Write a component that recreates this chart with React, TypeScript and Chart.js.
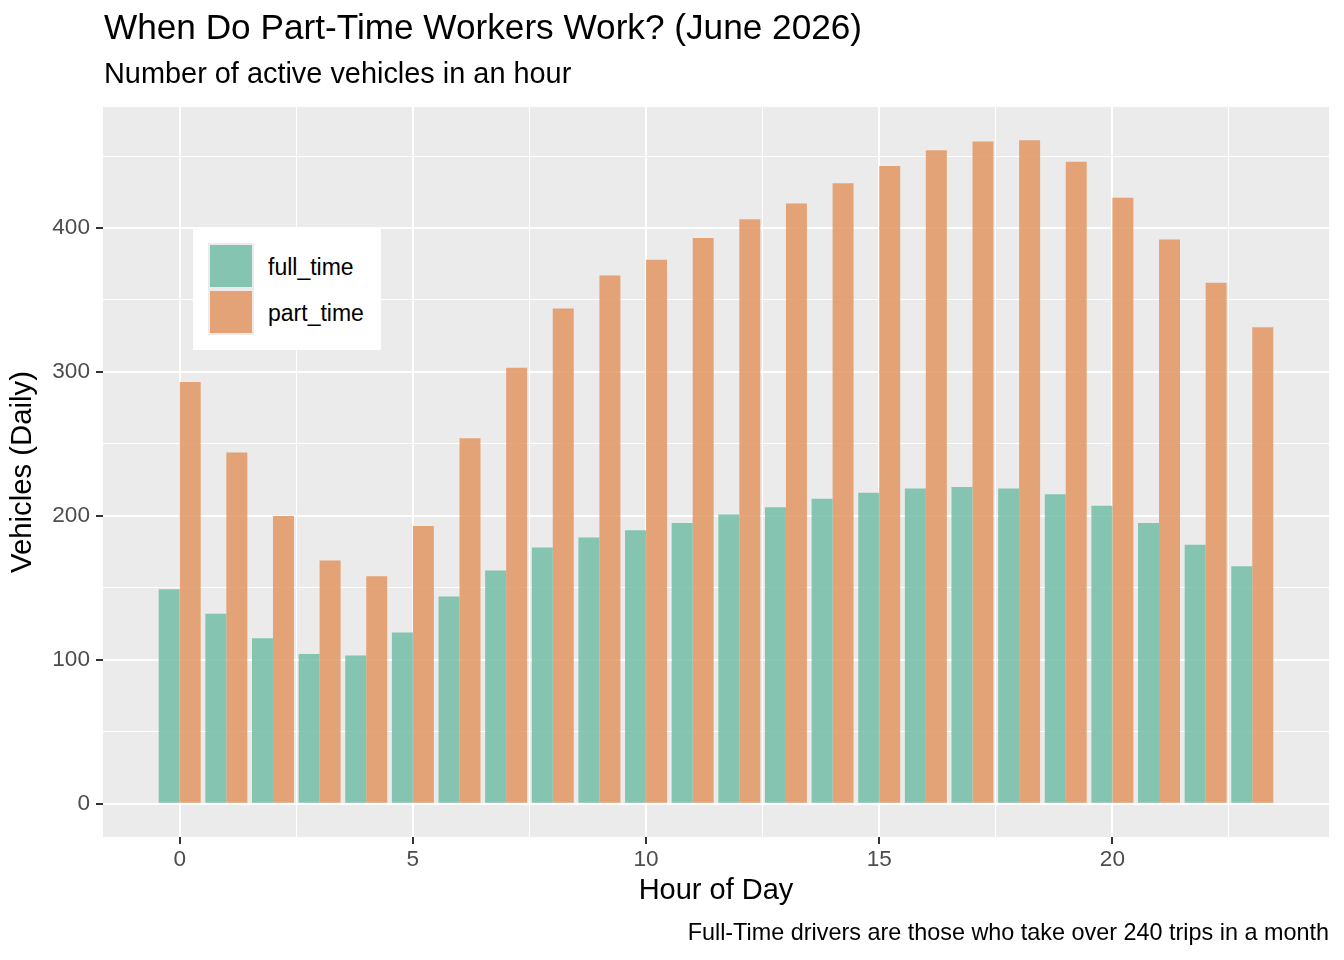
import React, { useEffect, useRef } from 'react';
import { Chart, registerables } from 'chart.js';

Chart.register(...registerables);

// data
const hours = [0, 1, 2, 3, 4, 5, 6, 7, 8, 9, 10, 11, 12, 13, 14, 15, 16, 17, 18, 19, 20, 21, 22, 23];
const fullTime = [149, 132, 115, 104, 103, 119, 144, 162, 178, 185, 190, 195, 201, 206, 212, 216, 219, 220, 219, 215, 207, 195, 180, 165];
const partTime = [293, 244, 200, 169, 158, 193, 254, 303, 344, 367, 378, 393, 406, 417, 431, 443, 454, 460, 461, 446, 421, 392, 362, 331];
const seriesNames = ['full_time', 'part_time'];

const FONT = '"Liberation Sans", Arial, Helvetica, sans-serif';
const GREEN = 'rgba(114, 189, 166, 0.85)';
const ORANGE = 'rgba(226, 151, 98, 0.85)';
const PANEL = '#EBEBEB';

// grey panel behind the grid, like theme_gray
const panelBackground = {
  id: 'panelBackground',
  beforeDraw: (chart: any) => {
    const { ctx, chartArea } = chart;
    ctx.save();
    ctx.fillStyle = PANEL;
    ctx.fillRect(chartArea.left, chartArea.top, chartArea.right - chartArea.left, chartArea.bottom - chartArea.top);
    ctx.restore();
  },
};

const App: React.FC = () => {
  const chartRef = useRef<HTMLCanvasElement>(null);
  const chartInstance = useRef<Chart | null>(null);

  useEffect(() => {
    document.body.style.margin = '0';
    if (!chartRef.current) return;
    if (chartInstance.current) chartInstance.current.destroy();

    const ctx = chartRef.current.getContext('2d');
    if (!ctx) return;

    const isMajorX = (v: number) => v % 5 === 0;
    const isMajorY = (v: number) => v % 100 === 0;

    chartInstance.current = new Chart(ctx, {
      type: 'bar',
      data: {
        datasets: [
          {
            label: seriesNames[0],
            data: hours.map((h, i) => ({ x: h, y: fullTime[i] })),
            backgroundColor: GREEN,
            borderWidth: 0,
            categoryPercentage: 0.9,
            barPercentage: 1.0,
          },
          {
            label: seriesNames[1],
            data: hours.map((h, i) => ({ x: h, y: partTime[i] })),
            backgroundColor: ORANGE,
            borderWidth: 0,
            categoryPercentage: 0.9,
            barPercentage: 1.0,
          },
        ],
      },
      options: {
        animation: false,
        responsive: true,
        maintainAspectRatio: false,
        layout: { padding: { top: 107, right: 15, bottom: 0, left: 0 } },
        plugins: {
          legend: { display: false },
          tooltip: { enabled: false },
        },
        scales: {
          x: {
            type: 'linear',
            min: -1.645,
            max: 24.645,
            offset: false,
            border: { display: false },
            grid: {
              offset: false,
              color: '#FFFFFF',
              lineWidth: (c: any) => (isMajorX(c.tick.value) ? 2 : 1),
              tickColor: (c: any) => (isMajorX(c.tick.value) ? '#333333' : 'rgba(0,0,0,0)'),
              tickLength: 7,
              tickWidth: 2,
            },
            ticks: {
              stepSize: 2.5,
              includeBounds: false,
              autoSkip: false,
              maxRotation: 0,
              padding: 2,
              color: '#4D4D4D',
              font: { family: FONT, size: 22.6 },
              callback: (v: any) => (isMajorX(Number(v)) ? String(v) : ''),
            },
            title: {
              display: true,
              text: 'Hour of Day',
              color: '#000000',
              font: { family: FONT, size: 29 },
              padding: { top: 0, bottom: 51.6 },
            },
            afterFit: (s: any) => {
              s.height = 123;
            },
          },
          y: {
            type: 'linear',
            min: -23.05,
            max: 484.05,
            border: { display: false },
            grid: {
              color: '#FFFFFF',
              lineWidth: (c: any) => (isMajorY(c.tick.value) ? 2 : 1),
              tickColor: (c: any) => (isMajorY(c.tick.value) ? '#333333' : 'rgba(0,0,0,0)'),
              tickLength: 7,
              tickWidth: 2,
            },
            ticks: {
              stepSize: 50,
              includeBounds: false,
              autoSkip: false,
              padding: 6,
              color: '#4D4D4D',
              font: { family: FONT, size: 22.6 },
              callback: (v: any) => (isMajorY(Number(v)) ? String(v) : ''),
            },
            title: {
              display: true,
              text: 'Vehicles (Daily)',
              color: '#000000',
              font: { family: FONT, size: 29.3 },
              padding: { top: 5.6, bottom: 0 },
            },
            afterFit: (s: any) => {
              s.width = 103;
            },
          },
        },
      } as any,
      plugins: [panelBackground],
    });

    return () => {
      if (chartInstance.current) {
        chartInstance.current.destroy();
        chartInstance.current = null;
      }
    };
  }, []);

  const keyBox = (top: number, color: string) => (
    <div style={{ position: 'absolute', left: 15, top, width: 46, height: 46, background: PANEL }}>
      <div style={{ position: 'absolute', left: 2, top: 2, width: 42, height: 42, background: color }} />
    </div>
  );

  const text = { position: 'absolute' as const, whiteSpace: 'nowrap' as const, color: '#000000' };

  return (
    <div style={{ position: 'relative', width: 1344, height: 960, fontFamily: FONT, background: '#FFFFFF' }}>
      <div style={{ position: 'absolute', left: 0, top: 0, width: 1344, height: 960 }}>
        <canvas ref={chartRef}></canvas>
      </div>

      <div style={{ ...text, left: 104, top: 6.8, fontSize: 35.2, lineHeight: '40px' }}>
        When Do Part-Time Workers Work? (June 2026)
      </div>
      <div style={{ ...text, left: 104, top: 56, fontSize: 28.9, lineHeight: '34px' }}>
        Number of active vehicles in an hour
      </div>

      {/* legend inside the panel */}
      <div style={{ position: 'absolute', left: 193, top: 228, width: 188, height: 122, background: '#FFFFFF' }}>
        {keyBox(15, GREEN)}
        {keyBox(61, ORANGE)}
        <div style={{ ...text, left: 75, top: 26, fontSize: 23, lineHeight: '26px' }}>{seriesNames[0]}</div>
        <div style={{ ...text, left: 75, top: 72, fontSize: 23, lineHeight: '26px' }}>{seriesNames[1]}</div>
      </div>

      <div style={{ ...text, right: 15, top: 918.9, fontSize: 23.4, lineHeight: '26px' }}>
        Full-Time drivers are those who take over 240 trips in a month
      </div>
    </div>
  );
};

export default App;
